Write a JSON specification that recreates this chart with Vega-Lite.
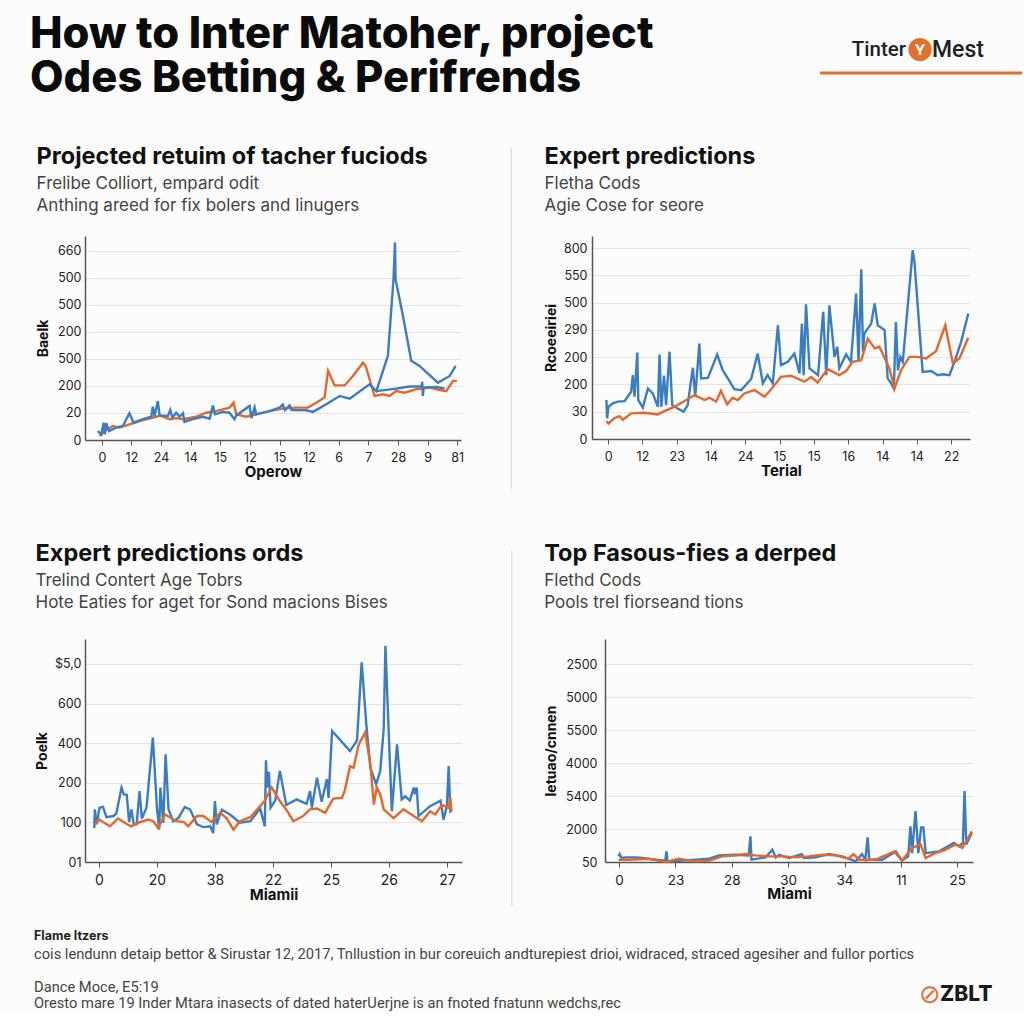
{
"$schema": "https://vega.github.io/schema/vega-lite/v6.json",
"background": "#fcfcfc",
"padding": {"left": 30, "top": 5, "right": 0, "bottom": 0},
"config": {
  "view": {"stroke": null},
  "font": "Inter",
  "axis": {"domainColor": "#555555", "domainWidth": 1.5, "gridColor": "#e4e4e4", "gridWidth": 1, "labelColor": "#222222", "labelFont": "Inter", "titleFont": "Inter", "titleColor": "#111111", "titleFontWeight": "bold", "tickColor": "#555555", "labelOverlap": false, "labelFlush": false},
  "title": {"anchor": "start", "frame": "bounds", "font": "Inter", "subtitleFont": "Inter"}
},
"datasets": {
  "p1": [
    {"x":-0.08,"v":15,"s":"o"},{"x":0.09,"v":33,"s":"o"},{"x":0.37,"v":52,"s":"o"},{"x":0.6,"v":46,"s":"o"},{"x":0.93,"v":58,"s":"o"},{"x":1.39,"v":74,"s":"o"},{"x":1.84,"v":86,"s":"o"},{"x":1.95,"v":91,"s":"o"},{"x":2.29,"v":77,"s":"o"},{"x":2.51,"v":81,"s":"o"},{"x":2.74,"v":77,"s":"o"},{"x":3.19,"v":86,"s":"o"},{"x":3.52,"v":101,"s":"o"},{"x":3.86,"v":107,"s":"o"},{"x":4.31,"v":120,"s":"o"},{"x":4.45,"v":138,"s":"o"},{"x":4.54,"v":95,"s":"o"},{"x":4.88,"v":86,"s":"o"},{"x":5.21,"v":95,"s":"o"},{"x":5.66,"v":107,"s":"o"},{"x":6.11,"v":116,"s":"o"},{"x":6.57,"v":120,"s":"o"},{"x":6.96,"v":120,"s":"o"},{"x":7.24,"v":138,"s":"o"},{"x":7.52,"v":157,"s":"o"},{"x":7.64,"v":256,"s":"o"},{"x":7.86,"v":202,"s":"o"},{"x":8.2,"v":202,"s":"o"},{"x":8.48,"v":237,"s":"o"},{"x":8.82,"v":286,"s":"o"},{"x":8.91,"v":274,"s":"o"},{"x":9.21,"v":163,"s":"o"},{"x":9.49,"v":169,"s":"o"},{"x":9.72,"v":163,"s":"o"},{"x":9.94,"v":181,"s":"o"},{"x":10.23,"v":175,"s":"o"},{"x":10.62,"v":188,"s":"o"},{"x":11.07,"v":194,"s":"o"},{"x":11.41,"v":185,"s":"o"},{"x":11.63,"v":181,"s":"o"},{"x":11.86,"v":219,"s":"o"},{"x":11.99,"v":219,"s":"o"},
    {"x":-0.14,"v":33,"s":"b"},{"x":-0.02,"v":21,"s":"b"},{"x":0.06,"v":64,"s":"b"},{"x":0.1,"v":21,"s":"b"},{"x":0.15,"v":62,"s":"b"},{"x":0.24,"v":33,"s":"b"},{"x":0.48,"v":46,"s":"b"},{"x":0.71,"v":52,"s":"b"},{"x":0.93,"v":99,"s":"b"},{"x":1.07,"v":64,"s":"b"},{"x":1.39,"v":77,"s":"b"},{"x":1.67,"v":86,"s":"b"},{"x":1.72,"v":123,"s":"b"},{"x":1.78,"v":89,"s":"b"},{"x":1.89,"v":144,"s":"b"},{"x":1.95,"v":91,"s":"b"},{"x":2.23,"v":89,"s":"b"},{"x":2.31,"v":111,"s":"b"},{"x":2.38,"v":83,"s":"b"},{"x":2.51,"v":101,"s":"b"},{"x":2.62,"v":86,"s":"b"},{"x":2.74,"v":99,"s":"b"},{"x":2.79,"v":67,"s":"b"},{"x":3.07,"v":77,"s":"b"},{"x":3.41,"v":86,"s":"b"},{"x":3.64,"v":79,"s":"b"},{"x":3.75,"v":128,"s":"b"},{"x":3.82,"v":95,"s":"b"},{"x":4.09,"v":104,"s":"b"},{"x":4.31,"v":101,"s":"b"},{"x":4.48,"v":77,"s":"b"},{"x":4.54,"v":91,"s":"b"},{"x":4.99,"v":126,"s":"b"},{"x":5.05,"v":81,"s":"b"},{"x":5.16,"v":120,"s":"b"},{"x":5.21,"v":95,"s":"b"},{"x":5.66,"v":107,"s":"b"},{"x":6.0,"v":120,"s":"b"},{"x":6.11,"v":131,"s":"b"},{"x":6.18,"v":111,"s":"b"},{"x":6.34,"v":128,"s":"b"},{"x":6.41,"v":111,"s":"b"},{"x":6.9,"v":110,"s":"b"},{"x":7.13,"v":104,"s":"b"},{"x":7.58,"v":132,"s":"b"},{"x":8.03,"v":163,"s":"b"},{"x":8.37,"v":153,"s":"b"},{"x":9.04,"v":206,"s":"b"},{"x":9.27,"v":181,"s":"b"},{"x":9.66,"v":311,"s":"b"},{"x":9.85,"v":595,"s":"b"},{"x":9.9,"v":731,"s":"b"},{"x":9.92,"v":595,"s":"b"},{"x":10.17,"v":459,"s":"b"},{"x":10.45,"v":293,"s":"b"},{"x":10.73,"v":274,"s":"b"},{"x":11.35,"v":212,"s":"b"},{"x":11.75,"v":237,"s":"b"},{"x":11.95,"v":274,"s":"b"},
    {"x":9.27,"v":181,"s":"b2"},{"x":9.94,"v":190,"s":"b2"},{"x":10.39,"v":198,"s":"b2"},{"x":10.79,"v":198,"s":"b2"},{"x":10.82,"v":215,"s":"b2"},{"x":10.84,"v":163,"s":"b2"},{"x":10.87,"v":194,"s":"b2"},{"x":11.3,"v":196,"s":"b2"},{"x":11.58,"v":190,"s":"b2"}
  ],
  "p2": [
    {"x":-0.05,"v":143,"s":"b"},{"x":-0.03,"v":76,"s":"b"},{"x":0.01,"v":118,"s":"b"},{"x":0.14,"v":131,"s":"b"},{"x":0.28,"v":137,"s":"b"},{"x":0.48,"v":139,"s":"b"},{"x":0.67,"v":173,"s":"b"},{"x":0.72,"v":234,"s":"b"},{"x":0.77,"v":155,"s":"b"},{"x":0.85,"v":317,"s":"b"},{"x":0.88,"v":143,"s":"b"},{"x":1.01,"v":115,"s":"b"},{"x":1.16,"v":185,"s":"b"},{"x":1.3,"v":167,"s":"b"},{"x":1.45,"v":118,"s":"b"},{"x":1.5,"v":310,"s":"b"},{"x":1.55,"v":118,"s":"b"},{"x":1.63,"v":232,"s":"b"},{"x":1.69,"v":124,"s":"b"},{"x":1.79,"v":320,"s":"b"},{"x":1.87,"v":124,"s":"b"},{"x":2.03,"v":112,"s":"b"},{"x":2.2,"v":100,"s":"b"},{"x":2.32,"v":124,"s":"b"},{"x":2.47,"v":261,"s":"b"},{"x":2.54,"v":155,"s":"b"},{"x":2.66,"v":350,"s":"b"},{"x":2.71,"v":222,"s":"b"},{"x":2.91,"v":224,"s":"b"},{"x":3.18,"v":310,"s":"b"},{"x":3.34,"v":252,"s":"b"},{"x":3.49,"v":222,"s":"b"},{"x":3.68,"v":183,"s":"b"},{"x":3.88,"v":179,"s":"b"},{"x":4.17,"v":220,"s":"b"},{"x":4.36,"v":313,"s":"b"},{"x":4.51,"v":204,"s":"b"},{"x":4.65,"v":234,"s":"b"},{"x":4.8,"v":204,"s":"b"},{"x":4.95,"v":417,"s":"b"},{"x":5.04,"v":271,"s":"b"},{"x":5.24,"v":283,"s":"b"},{"x":5.43,"v":313,"s":"b"},{"x":5.58,"v":240,"s":"b"},{"x":5.65,"v":423,"s":"b"},{"x":5.7,"v":234,"s":"b"},{"x":5.77,"v":494,"s":"b"},{"x":5.87,"v":259,"s":"b"},{"x":6.12,"v":234,"s":"b"},{"x":6.27,"v":466,"s":"b"},{"x":6.36,"v":234,"s":"b"},{"x":6.45,"v":490,"s":"b"},{"x":6.6,"v":301,"s":"b"},{"x":6.68,"v":338,"s":"b"},{"x":6.74,"v":259,"s":"b"},{"x":6.94,"v":310,"s":"b"},{"x":7.08,"v":283,"s":"b"},{"x":7.23,"v":533,"s":"b"},{"x":7.3,"v":283,"s":"b"},{"x":7.38,"v":622,"s":"b"},{"x":7.43,"v":320,"s":"b"},{"x":7.47,"v":387,"s":"b"},{"x":7.67,"v":423,"s":"b"},{"x":7.77,"v":497,"s":"b"},{"x":7.86,"v":417,"s":"b"},{"x":8.06,"v":399,"s":"b"},{"x":8.15,"v":222,"s":"b"},{"x":8.25,"v":204,"s":"b"},{"x":8.33,"v":185,"s":"b"},{"x":8.39,"v":429,"s":"b"},{"x":8.45,"v":252,"s":"b"},{"x":8.52,"v":301,"s":"b"},{"x":8.59,"v":283,"s":"b"},{"x":8.88,"v":692,"s":"b"},{"x":8.93,"v":649,"s":"b"},{"x":9.17,"v":246,"s":"b"},{"x":9.42,"v":249,"s":"b"},{"x":9.61,"v":234,"s":"b"},{"x":9.76,"v":237,"s":"b"},{"x":9.95,"v":234,"s":"b"},{"x":10.1,"v":283,"s":"b"},{"x":10.29,"v":356,"s":"b"},{"x":10.5,"v":460,"s":"b"},
    {"x":-0.05,"v":66,"s":"o"},{"x":0.01,"v":57,"s":"o"},{"x":0.18,"v":76,"s":"o"},{"x":0.33,"v":84,"s":"o"},{"x":0.43,"v":70,"s":"o"},{"x":0.67,"v":94,"s":"o"},{"x":1.06,"v":96,"s":"o"},{"x":1.45,"v":90,"s":"o"},{"x":1.64,"v":102,"s":"o"},{"x":1.93,"v":118,"s":"o"},{"x":2.23,"v":139,"s":"o"},{"x":2.52,"v":161,"s":"o"},{"x":2.81,"v":143,"s":"o"},{"x":2.95,"v":151,"s":"o"},{"x":3.15,"v":137,"s":"o"},{"x":3.29,"v":176,"s":"o"},{"x":3.47,"v":127,"s":"o"},{"x":3.63,"v":151,"s":"o"},{"x":3.78,"v":143,"s":"o"},{"x":3.97,"v":167,"s":"o"},{"x":4.27,"v":179,"s":"o"},{"x":4.56,"v":155,"s":"o"},{"x":4.76,"v":183,"s":"o"},{"x":5.04,"v":228,"s":"o"},{"x":5.33,"v":232,"s":"o"},{"x":5.72,"v":210,"s":"o"},{"x":5.92,"v":227,"s":"o"},{"x":6.11,"v":207,"s":"o"},{"x":6.4,"v":256,"s":"o"},{"x":6.74,"v":234,"s":"o"},{"x":6.94,"v":249,"s":"o"},{"x":7.13,"v":283,"s":"o"},{"x":7.38,"v":289,"s":"o"},{"x":7.57,"v":368,"s":"o"},{"x":7.77,"v":332,"s":"o"},{"x":7.91,"v":338,"s":"o"},{"x":8.2,"v":259,"s":"o"},{"x":8.35,"v":185,"s":"o"},{"x":8.54,"v":252,"s":"o"},{"x":8.78,"v":301,"s":"o"},{"x":9.02,"v":301,"s":"o"},{"x":9.27,"v":295,"s":"o"},{"x":9.56,"v":322,"s":"o"},{"x":9.83,"v":417,"s":"o"},{"x":10.05,"v":277,"s":"o"},{"x":10.24,"v":295,"s":"o"},{"x":10.5,"v":371,"s":"o"}
  ],
  "p3": [
    {"x":-0.08,"v":86,"s":"b"},{"x":-0.07,"v":133,"s":"b"},{"x":-0.04,"v":95,"s":"b"},{"x":0.01,"v":137,"s":"b"},{"x":0.07,"v":139,"s":"b"},{"x":0.13,"v":113,"s":"b"},{"x":0.25,"v":116,"s":"b"},{"x":0.3,"v":122,"s":"b"},{"x":0.39,"v":188,"s":"b"},{"x":0.43,"v":171,"s":"b"},{"x":0.48,"v":169,"s":"b"},{"x":0.52,"v":101,"s":"b"},{"x":0.56,"v":133,"s":"b"},{"x":0.6,"v":95,"s":"b"},{"x":0.65,"v":95,"s":"b"},{"x":0.7,"v":179,"s":"b"},{"x":0.74,"v":110,"s":"b"},{"x":0.82,"v":137,"s":"b"},{"x":0.93,"v":314,"s":"b"},{"x":1.0,"v":137,"s":"b"},{"x":1.04,"v":82,"s":"b"},{"x":1.06,"v":188,"s":"b"},{"x":1.11,"v":99,"s":"b"},{"x":1.15,"v":272,"s":"b"},{"x":1.2,"v":133,"s":"b"},{"x":1.28,"v":103,"s":"b"},{"x":1.37,"v":111,"s":"b"},{"x":1.48,"v":139,"s":"b"},{"x":1.57,"v":133,"s":"b"},{"x":1.69,"v":95,"s":"b"},{"x":1.8,"v":88,"s":"b"},{"x":1.92,"v":90,"s":"b"},{"x":1.97,"v":73,"s":"b"},{"x":2.0,"v":154,"s":"b"},{"x":2.03,"v":95,"s":"b"},{"x":2.12,"v":132,"s":"b"},{"x":2.26,"v":120,"s":"b"},{"x":2.43,"v":99,"s":"b"},{"x":2.61,"v":103,"s":"b"},{"x":2.78,"v":135,"s":"b"},{"x":2.86,"v":90,"s":"b"},{"x":2.88,"v":257,"s":"b"},{"x":2.9,"v":188,"s":"b"},{"x":2.93,"v":228,"s":"b"},{"x":2.96,"v":137,"s":"b"},{"x":3.04,"v":155,"s":"b"},{"x":3.12,"v":230,"s":"b"},{"x":3.23,"v":144,"s":"b"},{"x":3.41,"v":158,"s":"b"},{"x":3.58,"v":147,"s":"b"},{"x":3.64,"v":179,"s":"b"},{"x":3.67,"v":137,"s":"b"},{"x":3.76,"v":213,"s":"b"},{"x":3.84,"v":152,"s":"b"},{"x":3.93,"v":209,"s":"b"},{"x":3.96,"v":162,"s":"b"},{"x":4.02,"v":331,"s":"b"},{"x":4.33,"v":280,"s":"b"},{"x":4.45,"v":307,"s":"b"},{"x":4.53,"v":504,"s":"b"},{"x":4.61,"v":348,"s":"b"},{"x":4.68,"v":238,"s":"b"},{"x":4.78,"v":196,"s":"b"},{"x":4.85,"v":230,"s":"b"},{"x":4.91,"v":335,"s":"b"},{"x":4.94,"v":546,"s":"b"},{"x":4.99,"v":352,"s":"b"},{"x":5.05,"v":128,"s":"b"},{"x":5.14,"v":297,"s":"b"},{"x":5.22,"v":158,"s":"b"},{"x":5.28,"v":166,"s":"b"},{"x":5.36,"v":155,"s":"b"},{"x":5.43,"v":188,"s":"b"},{"x":5.45,"v":171,"s":"b"},{"x":5.48,"v":188,"s":"b"},{"x":5.51,"v":116,"s":"b"},{"x":5.71,"v":141,"s":"b"},{"x":5.89,"v":155,"s":"b"},{"x":5.94,"v":107,"s":"b"},{"x":6.0,"v":141,"s":"b"},{"x":6.03,"v":242,"s":"b"},{"x":6.06,"v":124,"s":"b"},
    {"x":-0.07,"v":95,"s":"o"},{"x":0.01,"v":107,"s":"o"},{"x":0.07,"v":101,"s":"o"},{"x":0.19,"v":90,"s":"o"},{"x":0.33,"v":110,"s":"o"},{"x":0.48,"v":96,"s":"o"},{"x":0.56,"v":90,"s":"o"},{"x":0.71,"v":101,"s":"o"},{"x":0.85,"v":107,"s":"o"},{"x":0.94,"v":103,"s":"o"},{"x":1.02,"v":86,"s":"o"},{"x":1.14,"v":120,"s":"o"},{"x":1.22,"v":113,"s":"o"},{"x":1.34,"v":103,"s":"o"},{"x":1.46,"v":101,"s":"o"},{"x":1.54,"v":90,"s":"o"},{"x":1.69,"v":116,"s":"o"},{"x":1.8,"v":116,"s":"o"},{"x":1.94,"v":101,"s":"o"},{"x":2.09,"v":124,"s":"o"},{"x":2.2,"v":111,"s":"o"},{"x":2.32,"v":82,"s":"o"},{"x":2.43,"v":103,"s":"o"},{"x":2.61,"v":113,"s":"o"},{"x":2.78,"v":141,"s":"o"},{"x":2.86,"v":155,"s":"o"},{"x":2.98,"v":188,"s":"o"},{"x":3.1,"v":158,"s":"o"},{"x":3.24,"v":130,"s":"o"},{"x":3.35,"v":103,"s":"o"},{"x":3.52,"v":116,"s":"o"},{"x":3.64,"v":133,"s":"o"},{"x":3.76,"v":135,"s":"o"},{"x":3.9,"v":124,"s":"o"},{"x":4.04,"v":160,"s":"o"},{"x":4.19,"v":162,"s":"o"},{"x":4.24,"v":181,"s":"o"},{"x":4.33,"v":242,"s":"o"},{"x":4.39,"v":238,"s":"o"},{"x":4.48,"v":297,"s":"o"},{"x":4.59,"v":327,"s":"o"},{"x":4.68,"v":247,"s":"o"},{"x":4.74,"v":145,"s":"o"},{"x":4.79,"v":188,"s":"o"},{"x":4.85,"v":171,"s":"o"},{"x":4.91,"v":133,"s":"o"},{"x":5.08,"v":111,"s":"o"},{"x":5.25,"v":133,"s":"o"},{"x":5.48,"v":111,"s":"o"},{"x":5.57,"v":103,"s":"o"},{"x":5.71,"v":128,"s":"o"},{"x":5.8,"v":120,"s":"o"},{"x":5.91,"v":144,"s":"o"},{"x":6.03,"v":137,"s":"o"},{"x":6.06,"v":162,"s":"o"},{"x":6.08,"v":128,"s":"o"}
  ],
  "p4": [
    {"x":-0.01,"v":17,"s":"b"},{"x":0.01,"v":24,"s":"b"},{"x":0.04,"v":12,"s":"b"},{"x":0.12,"v":14,"s":"b"},{"x":0.3,"v":14,"s":"b"},{"x":0.41,"v":12,"s":"b"},{"x":0.65,"v":7,"s":"b"},{"x":0.82,"v":4,"s":"b"},{"x":0.84,"v":32,"s":"b"},{"x":0.86,"v":0,"s":"b"},{"x":1.06,"v":4,"s":"b"},{"x":1.36,"v":7,"s":"b"},{"x":1.6,"v":10,"s":"b"},{"x":1.77,"v":20,"s":"b"},{"x":2.07,"v":22,"s":"b"},{"x":2.3,"v":20,"s":"b"},{"x":2.33,"v":78,"s":"b"},{"x":2.35,"v":7,"s":"b"},{"x":2.6,"v":14,"s":"b"},{"x":2.72,"v":37,"s":"b"},{"x":2.78,"v":14,"s":"b"},{"x":2.84,"v":22,"s":"b"},{"x":3.01,"v":12,"s":"b"},{"x":3.24,"v":24,"s":"b"},{"x":3.28,"v":12,"s":"b"},{"x":3.49,"v":14,"s":"b"},{"x":3.72,"v":24,"s":"b"},{"x":3.96,"v":17,"s":"b"},{"x":4.2,"v":2,"s":"b"},{"x":4.31,"v":24,"s":"b"},{"x":4.37,"v":7,"s":"b"},{"x":4.41,"v":75,"s":"b"},{"x":4.44,"v":7,"s":"b"},{"x":4.67,"v":7,"s":"b"},{"x":4.91,"v":32,"s":"b"},{"x":5.02,"v":4,"s":"b"},{"x":5.13,"v":17,"s":"b"},{"x":5.17,"v":108,"s":"b"},{"x":5.2,"v":27,"s":"b"},{"x":5.26,"v":154,"s":"b"},{"x":5.31,"v":27,"s":"b"},{"x":5.36,"v":105,"s":"b"},{"x":5.4,"v":105,"s":"b"},{"x":5.44,"v":27,"s":"b"},{"x":5.67,"v":32,"s":"b"},{"x":5.94,"v":58,"s":"b"},{"x":6.03,"v":48,"s":"b"},{"x":6.1,"v":58,"s":"b"},{"x":6.13,"v":215,"s":"b"},{"x":6.16,"v":53,"s":"b"},{"x":6.26,"v":88,"s":"b"},
    {"x":-0.01,"v":7,"s":"o"},{"x":0.18,"v":7,"s":"o"},{"x":0.53,"v":10,"s":"o"},{"x":0.83,"v":0,"s":"o"},{"x":1.06,"v":10,"s":"o"},{"x":1.36,"v":2,"s":"o"},{"x":1.6,"v":4,"s":"o"},{"x":1.83,"v":17,"s":"o"},{"x":2.07,"v":20,"s":"o"},{"x":2.25,"v":24,"s":"o"},{"x":2.42,"v":20,"s":"o"},{"x":2.66,"v":17,"s":"o"},{"x":2.9,"v":17,"s":"o"},{"x":3.13,"v":14,"s":"o"},{"x":3.37,"v":17,"s":"o"},{"x":3.6,"v":22,"s":"o"},{"x":3.84,"v":20,"s":"o"},{"x":4.07,"v":10,"s":"o"},{"x":4.16,"v":24,"s":"o"},{"x":4.26,"v":7,"s":"o"},{"x":4.55,"v":7,"s":"o"},{"x":4.73,"v":20,"s":"o"},{"x":4.88,"v":32,"s":"o"},{"x":5.02,"v":4,"s":"o"},{"x":5.2,"v":43,"s":"o"},{"x":5.35,"v":53,"s":"o"},{"x":5.44,"v":12,"s":"o"},{"x":5.61,"v":27,"s":"o"},{"x":5.79,"v":37,"s":"o"},{"x":5.97,"v":53,"s":"o"},{"x":6.09,"v":43,"s":"o"},{"x":6.26,"v":93,"s":"o"}
  ]
},
"spacing": 51,
"vconcat": [
  {"spacing": 43, "vconcat": [
    {"spacing": 0, "hconcat": [
      {"width": 733, "height": 1, "data": {"values": [{}]}, "mark": {"type": "point", "opacity": 0}, "encoding": {},
       "title": {"text": ["How to Inter Matoher, project", "Odes Betting & Perifrends"], "orient": "bottom", "dx": -55, "fontSize": 43.5, "fontWeight": 800, "lineHeight": 44, "color": "#0b0b0b", "offset": 3}},
      {"width": 202, "height": 65, "data": {"values": [{}]}, "layer": [
        {"mark": {"type": "rule", "color": "#e4702d", "strokeWidth": 3}, "encoding": {"x": {"datum": 0, "type": "quantitative", "scale": {"domain": [0, 1]}, "axis": null}, "x2": {"datum": 1}, "y": {"value": "height"}}},
        {"mark": {"type": "point", "shape": "circle", "filled": true, "color": "#e4702d", "opacity": 1, "size": 540, "yOffset": 9, "xOffset": -1}, "encoding": {}},
        {"mark": {"type": "text", "color": "#ffffff", "fontSize": 15, "fontWeight": "bold", "baseline": "middle", "dy": 9, "dx": -1}, "encoding": {"text": {"value": "Y"}}},
        {"mark": {"type": "text", "color": "#222222", "font": "Roboto", "fontSize": 20.5, "fontWeight": 500, "align": "right", "baseline": "middle", "dx": -15, "dy": 9}, "encoding": {"text": {"value": "Tinter"}}},
        {"mark": {"type": "text", "color": "#222222", "font": "Roboto", "fontSize": 23, "fontWeight": 500, "align": "left", "baseline": "middle", "dx": 11, "dy": 9}, "encoding": {"text": {"value": "Mest"}}}
      ]}
    ]},
    {"spacing": 21.5, "hconcat": [
      {"width": 376, "height": 204, "data": {"name": "p1"},
       "title": {"text": "Projected retuim of tacher fuciods", "subtitle": ["Frelibe Colliort, empard odit", "Anthing areed for fix bolers and linugers"], "fontSize": 23.5, "fontWeight": "bold", "color": "#111111", "subtitleFontSize": 17, "subtitleColor": "#444444", "subtitleLineHeight": 22, "subtitlePadding": 8, "offset": 22},
       "mark": {"type": "line", "strokeWidth": 2.4},
       "encoding": {
         "x": {"field": "x", "type": "quantitative", "scale": {"domain": [-0.57, 12.13], "nice": false, "zero": false},
               "axis": {"values": [0,1,2,3,4,5,6,7,8,9,10,11,12], "labelExpr": "['0','12','24','14','15','12','15','12','6','7','28','9','81'][round(datum.value)]", "title": "Operow", "grid": false, "tickSize": 5, "labelFontSize": 12.5, "labelPadding": 6, "titleFontSize": 15, "titlePadding": 1}},
         "y": {"field": "v", "type": "quantitative", "scale": {"domain": [0, 755], "nice": false},
               "axis": {"values": [0,100,200,300,400,500,600,700], "labelExpr": "['0','20','200','500','200','500','500','660'][round(datum.value/100)]", "title": "Baelk", "grid": true, "ticks": false, "labelFontSize": 12.5, "labelPadding": 4, "titleFontSize": 14, "titlePadding": 7}},
         "color": {"field": "s", "type": "nominal", "scale": {"domain": ["b", "b2", "o"], "range": ["#3a7ec1", "#3a7ec1", "#e3682b"]}, "legend": null}
       }},
      {"width": 37, "height": 253, "data": {"values": [{}]}, "mark": {"type": "rule", "color": "#dcdcdc", "strokeWidth": 1.2},
       "encoding": {"x": {"datum": 0.7, "type": "quantitative", "scale": {"domain": [0, 1]}, "axis": null}, "y": {"datum": 0, "type": "quantitative", "scale": {"domain": [0, 1]}, "axis": null}, "y2": {"datum": 1.35}}},
      {"width": 378, "height": 203, "data": {"name": "p2"},
       "title": {"text": "Expert predictions", "subtitle": ["Fletha Cods", "Agie Cose for seore"], "fontSize": 23.5, "fontWeight": "bold", "color": "#111111", "subtitleFontSize": 17, "subtitleColor": "#444444", "subtitleLineHeight": 22, "subtitlePadding": 8, "offset": 22},
       "mark": {"type": "line", "strokeWidth": 2.4},
       "encoding": {
         "x": {"field": "x", "type": "quantitative", "scale": {"domain": [-0.47, 10.55], "nice": false, "zero": false},
               "axis": {"values": [0,1,2,3,4,5,6,7,8,9,10], "labelExpr": "['0','12','23','14','24','15','15','16','14','14','22'][round(datum.value)]", "title": "Terial", "grid": false, "tickSize": 5, "labelFontSize": 12.5, "labelPadding": 6, "titleFontSize": 15, "titlePadding": 1}},
         "y": {"field": "v", "type": "quantitative", "scale": {"domain": [0, 744], "nice": false},
               "axis": {"values": [0,100,200,300,400,500,600,700], "labelExpr": "['0','30','200','200','290','500','550','800'][round(datum.value/100)]", "title": "Rcoeeiriei", "grid": true, "ticks": false, "labelFontSize": 12.5, "labelPadding": 5, "titleFontSize": 14, "titlePadding": 5}},
         "color": {"field": "s", "type": "nominal", "scale": {"domain": ["b", "o"], "range": ["#3a7ec1", "#e3682b"]}, "legend": null}
       }}
    ]}
  ]},
  {"spacing": 17, "vconcat": [
    {"spacing": 21, "hconcat": [
      {"width": 377, "height": 223, "data": {"name": "p3"},
       "title": {"text": "Expert predictions ords", "subtitle": ["Trelind Contert Age Tobrs", "Hote Eaties for aget for Sond macions Bises"], "fontSize": 23.5, "fontWeight": "bold", "color": "#111111", "subtitleFontSize": 17, "subtitleColor": "#444444", "subtitleLineHeight": 22, "subtitlePadding": 8, "offset": 28},
       "mark": {"type": "line", "strokeWidth": 2.4},
       "encoding": {
         "x": {"field": "x", "type": "quantitative", "scale": {"domain": [-0.24, 6.26], "nice": false, "zero": false},
               "axis": {"values": [0,1,2,3,4,5,6], "labelExpr": "['0','20','38','22','25','26','27'][round(datum.value)]", "title": "Miamii", "grid": false, "tickSize": 5, "labelFontSize": 14, "labelPadding": 6, "titleFontSize": 15, "titlePadding": 0}},
         "y": {"field": "v", "type": "quantitative", "scale": {"domain": [0, 563], "nice": false},
               "axis": {"values": [0,100,200,300,400,500], "labelExpr": "['01','100','200','400','600','$5,0'][round(datum.value/100)]", "title": "Poelk", "grid": true, "ticks": false, "labelFontSize": 12.5, "labelPadding": 4, "titleFontSize": 14, "titlePadding": 5}},
         "color": {"field": "s", "type": "nominal", "scale": {"domain": ["b", "o"], "range": ["#3a7ec1", "#e3682b"]}, "legend": null}
       }},
      {"width": 40, "height": 267, "data": {"values": [{}]}, "mark": {"type": "rule", "color": "#dcdcdc", "strokeWidth": 1.2},
       "encoding": {"x": {"datum": 0.72, "type": "quantitative", "scale": {"domain": [0, 1]}, "axis": null}, "y": {"datum": 0, "type": "quantitative", "scale": {"domain": [0, 1]}, "axis": null}, "y2": {"datum": 1.33}}},
      {"width": 368, "height": 223, "data": {"name": "p4"},
       "title": {"text": "Top Fasous-fies a derped", "subtitle": ["Flethd Cods", "Pools trel fiorseand tions"], "fontSize": 23.5, "fontWeight": "bold", "color": "#111111", "subtitleFontSize": 17, "subtitleColor": "#444444", "subtitleLineHeight": 22, "subtitlePadding": 8, "offset": 28},
       "mark": {"type": "line", "strokeWidth": 2.4},
       "encoding": {
         "x": {"field": "x", "type": "quantitative", "scale": {"domain": [-0.25, 6.28], "nice": false, "zero": false},
               "axis": {"values": [0,1,2,3,4,5,6], "labelExpr": "['0','23','28','30','34','11','25'][round(datum.value)]", "title": "Miami", "grid": false, "tickSize": 5, "labelFontSize": 13.5, "labelPadding": 6, "titleFontSize": 15, "titlePadding": 0}},
         "y": {"field": "v", "type": "quantitative", "scale": {"domain": [0, 676], "nice": false},
               "axis": {"values": [0,100,200,300,400,500,600], "labelExpr": "['50','2000','5400','4000','5500','5000','2500'][round(datum.value/100)]", "title": "letuao/cnnen", "grid": true, "ticks": false, "labelFontSize": 12.5, "labelPadding": 8, "titleFontSize": 14, "titlePadding": 7}},
         "color": {"field": "s", "type": "nominal", "scale": {"domain": ["b", "o"], "range": ["#3a7ec1", "#e3682b"]}, "legend": null}
       }}
    ]},
    {"spacing": 0, "hconcat": [
      {"width": 834, "height": 1, "data": {"values": [{}]}, "mark": {"type": "point", "opacity": 0}, "encoding": {},
       "title": {"text": "Flame Itzers", "orient": "bottom", "dx": -51, "subtitle": ["cois lendunn detaip bettor & Sirustar 12, 2017, Tnllustion in bur coreuich andturepiest drioi, widraced, straced agesiher and fullor portics", "\u200b", "Dance Moce,  E5:19", "Oresto mare 19 Inder Mtara inasects of dated haterUerjne is an fnoted fnatunn wedchs,rec"], "fontSize": 12.5, "fontWeight": "bold", "color": "#222222", "subtitleFont": "Roboto", "subtitleFontSize": 14.7, "subtitleColor": "#444444", "subtitleLineHeight": 16.5, "subtitlePadding": 4, "offset": 0}},
      {"width": 20, "height": 20, "data": {"values": [{}]}, "layer": [
        {"mark": {"type": "text", "color": "#e4702d", "fontSize": 26, "font": "DejaVu Sans", "baseline": "middle", "dy": 58}, "encoding": {"text": {"value": "⊘"}}},
        {"mark": {"type": "text", "color": "#1a1a1a", "fontSize": 21, "fontWeight": 800, "align": "left", "baseline": "middle", "dx": 10, "dy": 58}, "encoding": {"text": {"value": "ZBLT"}}}
      ]}
    ]}
  ]}
]
}
